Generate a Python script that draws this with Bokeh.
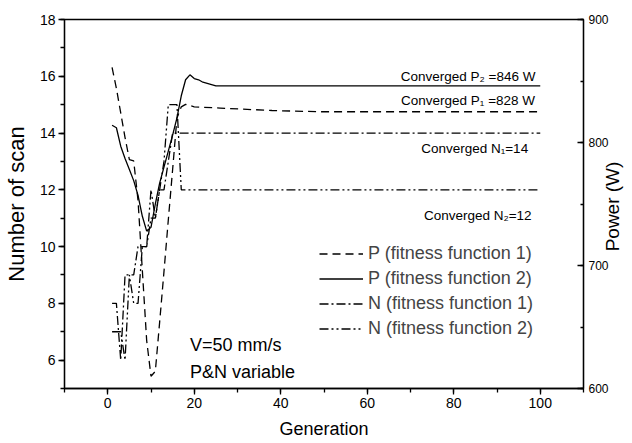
import math
from bokeh.plotting import figure
from bokeh.models import (Range1d, LinearAxis, SingleIntervalTicker,
                          Legend, LegendItem, Label)
from bokeh.embed import file_html
from bokeh.resources import INLINE

# ---------------- data ----------------
gen_p1 = [1, 2, 3, 4, 5, 6, 7, 8, 9, 10, 11, 12, 13, 14, 15, 16, 17, 18, 19, 20, 26, 38, 49, 100]
power_p1 = [861, 844, 824, 804, 786, 785, 753, 696, 639, 610, 614, 654, 695, 737, 778, 820,
            829, 831, 830, 829, 828, 826, 825, 825]

gen_p2 = [1, 2, 3, 4, 5, 6, 7, 8, 9, 10, 11, 12, 13, 14, 15, 16, 17, 18, 19, 20,
          21, 22, 23, 24, 25, 100]
power_p2 = [814, 812, 797, 787, 778, 769, 757, 740, 728, 731, 750, 767, 780, 793, 806, 820,
            838, 851, 855, 852, 851, 849, 848, 847, 846, 846]

gen_n1 = [1, 2, 3, 4, 5, 6, 7, 8, 9, 10, 11, 12, 13, 14, 15, 100]
scan_n1 = [8, 8, 6, 9, 9, 9, 10, 10, 10, 11, 11, 12, 12, 13, 14, 14]

gen_n2 = [1, 2, 3, 4, 5, 6, 7, 8, 9, 10, 11, 12, 13, 14, 15, 16, 17, 100]
scan_n2 = [7, 7, 7, 6, 9, 8, 8, 10, 10, 12, 11, 12, 13, 15, 15, 15, 12, 12]

legend_labels = ["P (fitness function 1)", "P (fitness function 2)",
                 "N (fitness function 1)", "N (fitness function 2)"]

FONT = "Liberation Sans"

p = figure(width=632, height=443, output_backend="svg", toolbar_location=None,
           x_range=Range1d(-10, 110), y_range=Range1d(5, 18),
           min_border_left=63, min_border_right=46, min_border_top=19,
           min_border_bottom=55)
p.extra_y_ranges = {"power": Range1d(600, 900)}

p.xgrid.visible = False
p.ygrid.visible = False
p.outline_line_color = "black"
p.outline_line_width = 1.3
p.background_fill_color = "white"
p.border_fill_color = "white"

# axes
p.xaxis.ticker = SingleIntervalTicker(interval=20, num_minor_ticks=2)
p.yaxis.ticker = SingleIntervalTicker(interval=2, num_minor_ticks=2)
p.xaxis.axis_label = "Generation"
p.yaxis.axis_label = "Number of scan"

right = LinearAxis(y_range_name="power",
                   ticker=SingleIntervalTicker(interval=100, num_minor_ticks=2))
p.add_layout(right, "right")

for ax in [p.xaxis[0], p.yaxis[0], right]:
    ax.axis_line_width = 1.3
    ax.major_tick_line_width = 1.3
    ax.minor_tick_line_width = 1.3
    ax.major_label_text_font = FONT
    ax.major_label_text_font_size = "14px"
    ax.major_label_text_color = "black"
    ax.axis_label_text_font = FONT
    ax.axis_label_text_font_size = "18px"
    ax.axis_label_text_font_style = "normal"
    ax.axis_label_text_color = "black"

for ax in [p.xaxis[0], p.yaxis[0]]:
    ax.major_tick_out = 6
    ax.major_tick_in = 0
    ax.minor_tick_out = 4
    ax.minor_tick_in = 0
    ax.major_label_standoff = 3

p.xaxis[0].axis_label_standoff = 8
p.yaxis[0].axis_label_standoff = 8
p.yaxis[0].axis_label_text_font_size = "22px"

right.major_tick_in = 6
right.major_tick_out = 0
right.minor_tick_in = 3
right.minor_tick_out = 0
right.major_label_standoff = 5
right.major_label_text_font_size = "12px"

# right-hand title, placed in the right side panel, reading bottom-to-top
p.add_layout(Label(x=1, y=182, x_units="screen", y_units="screen",
                   text="Power (W)", angle=math.pi / 2,
                   text_align="center", text_baseline="middle",
                   text_font=FONT, text_font_size="19px",
                   text_color="black"), "right")

# lines
r1 = p.line(gen_p1, power_p1, y_range_name="power", line_color="black",
            line_width=1.3, line_dash="8 5")
r2 = p.line(gen_p2, power_p2, y_range_name="power", line_color="black",
            line_width=1.3)
r3 = p.line(gen_n1, scan_n1, line_color="black", line_width=1.3,
            line_dash="9 3 2 3")
r4 = p.line(gen_n2, scan_n2, line_color="black", line_width=1.3,
            line_dash="9 3 2 3 2 3")

legend = Legend(items=[LegendItem(label=legend_labels[0], renderers=[r1]),
                       LegendItem(label=legend_labels[1], renderers=[r2]),
                       LegendItem(label=legend_labels[2], renderers=[r3]),
                       LegendItem(label=legend_labels[3], renderers=[r4])],
                location=(255, 49), padding=0, margin=0, spacing=4,
                label_height=21, glyph_height=21, glyph_width=44,
                label_standoff=5, background_fill_alpha=0,
                border_line_alpha=0, label_text_font=FONT,
                label_text_font_size="18px")
p.add_layout(legend)

ann = [(98.9, 16.0, "Converged P\u2082 =846 W"),
       (98.8, 15.13, "Converged P\u2081 =828 W"),
       (97.2, 13.47, "Converged N\u2081=14"),
       (98.0, 11.1, "Converged N\u2082=12")]
for x, y, t in ann:
    p.add_layout(Label(x=x, y=y, text=t, text_align="right",
                       text_baseline="middle", text_font=FONT,
                       text_font_size="13.5px", text_color="black"))

p.add_layout(Label(x=19, y=6.53, text="V=50 mm/s", text_align="left",
                   text_baseline="middle", text_font=FONT,
                   text_font_size="18px", text_color="black"))
p.add_layout(Label(x=19, y=5.57, text="P&N variable", text_align="left",
                   text_baseline="middle", text_font=FONT,
                   text_font_size="18px", text_color="black"))

open("out.html", "w").write(file_html(p, INLINE))
